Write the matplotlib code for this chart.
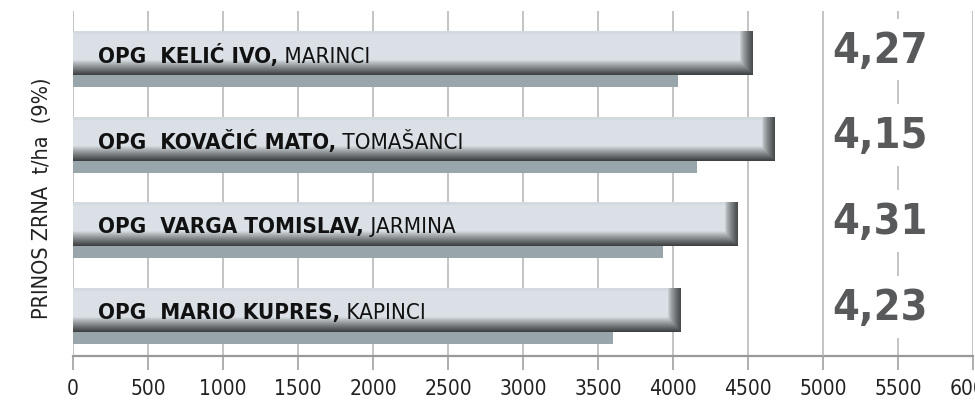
import numpy as np
import matplotlib
matplotlib.use('Agg')
import matplotlib.pyplot as plt
from matplotlib import font_manager

# data
farms = ['OPG  KELIĆ IVO,', 'OPG  KOVAČIĆ MATO,', 'OPG  VARGA TOMISLAV,', 'OPG  MARIO KUPRES,']
places = ['MARINCI', 'TOMAŠANCI', 'JARMINA', 'KAPINCI']
main_vals = [4530, 4680, 4430, 4050]
shadow_vals = [4030, 4160, 3930, 3600]
yields = ['4,27', '4,15', '4,31', '4,23']
xticks = list(range(0, 6001, 500))

plt.rcParams['font.family'] = ['DejaVu Sans']
plt.rcParams['font.stretch'] = 'condensed'

fp = font_manager.FontProperties(family='DejaVu Sans', stretch='condensed', weight='bold')
condensed = 'Condensed' in font_manager.findfont(fp)
k = 1.0 if condensed else 0.85

fig = plt.figure(figsize=(9.75, 4.02), dpi=100)
ax = fig.add_axes([73 / 975, 1 - 357 / 402, 900 / 975, 345 / 402])

ax.set_xlim(0, 6000)
ax.set_ylim(3.535, -0.49)

for x in xticks:
    # the 5000 line stays unbroken, the 5500 one is cut by the number boxes
    ax.axvline(x, color='#b4b4b4', lw=1.1, zorder=4 if x == 5000 else 0)

main_h = 0.51
shadow_h = 0.14
base = np.array([0.855, 0.882, 0.902])


def bar_image(value):
    rows, cols = 60, int(value / 5)
    r = np.linspace(0, 1, rows)
    v = np.where(r > 0.66, 1 - 0.72 * ((r - 0.66) / 0.34) ** 0.9, 1.0)
    v = np.where(r < 0.06, 0.97, v)
    c = np.arange(cols) * 5.0
    edge = value - 90
    h = np.where(c > edge, 1 - 0.7 * ((c - edge) / 90) ** 0.7, 1.0)
    h = np.where(c < 20, 1.03, h)
    shade = np.minimum(v[:, None], h[None, :])
    img = base[None, None, :] * shade[:, :, None]
    return np.clip(img, 0, 1)


for i in range(len(farms)):
    top = i - main_h / 2
    bot = i + main_h / 2
    ax.imshow(bar_image(main_vals[i]), extent=[0, main_vals[i], bot, top],
              aspect='auto', interpolation='bilinear', zorder=2)
    ax.barh(bot + shadow_h / 2, shadow_vals[i], height=shadow_h,
            color='#98a6ab', zorder=1, linewidth=0)
    t = ax.text(167, i + 0.02, farms[i], fontsize=16 * k, fontweight='bold',
                va='center', ha='left', color='#111111', zorder=3)
    ax.annotate(' ' + places[i], xy=(1, 0), xycoords=t, va='bottom', ha='left',
                fontsize=16 * k, color='#111111', zorder=3)
    ax.text(5380, i - 0.04, yields[i], fontsize=31 * k, fontweight='bold',
            ha='center', va='center', color='#58595b', zorder=3,
            bbox=dict(facecolor='white', edgecolor='none', pad=7))

ax.set_xticks(xticks)
ax.set_xticklabels([str(x) for x in xticks], fontsize=15 * k, color='#222222')
ax.set_yticks([])
ax.tick_params(axis='x', length=10, width=1.1, color='#999999', pad=6)
for s in ['top', 'right', 'left']:
    ax.spines[s].set_visible(False)
ax.spines['bottom'].set_color('#999999')
ax.spines['bottom'].set_linewidth(1.6)

fig.text(42 / 975, 1 - 198 / 402, 'PRINOS ZRNA  t/ha  (9%)', rotation=90,
         fontsize=15.5 * k, ha='center', va='center', color='#222222')

fig.savefig('out.png', dpi=100)
